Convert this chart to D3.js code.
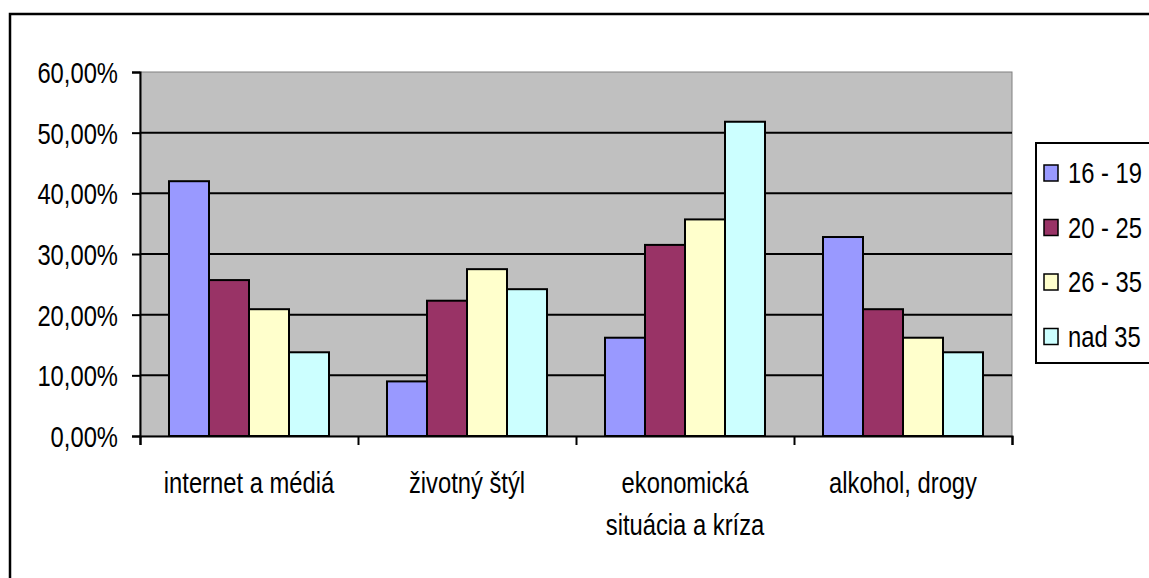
<!DOCTYPE html>
<html>
<head>
<meta charset="utf-8">
<script src="https://cdn.jsdelivr.net/npm/d3@7"></script>
<style>
  body { margin: 0; background: #fff; }
  text { font-family: "Liberation Sans", Arial, sans-serif; fill: #000; }
</style>
</head>
<body>
<script>
// chart data
var categories = ["internet a médiá", "životný štýl", "ekonomická situácia a kríza", "alkohol, drogy"];
var seriesNames = ["16 - 19", "20 - 25", "26 - 35", "nad 35"];
var values_16_19 = [0.420, 0.090, 0.162, 0.328];
var values_20_25 = [0.257, 0.223, 0.315, 0.209];
var values_26_35 = [0.209, 0.275, 0.357, 0.162];
var values_nad35 = [0.138, 0.242, 0.518, 0.138];
var yTickValues = [0, 0.1, 0.2, 0.3, 0.4, 0.5, 0.6];

var seriesValues = [values_16_19, values_20_25, values_26_35, values_nad35];
var seriesColors = ["#9999FF", "#993366", "#FFFFCC", "#CCFFFF"];

// sizes
var svg_Width = 1149;
var svg_Height = 578;
var plot = { left: 140, right: 1012, top: 72, bottom: 436 };
var fontSize = 29;
var squeeze = 0.82;   // text is drawn narrow, like the original

var svg = d3.select("body")
  .append("svg")
  .attr("width", svg_Width)
  .attr("height", svg_Height);

// outer chart border (runs off right/bottom edge like the original)
svg.append("rect")
  .attr("x", 10).attr("y", 14)
  .attr("width", 1170).attr("height", 600)
  .attr("fill", "#fff")
  .attr("stroke", "#000")
  .attr("stroke-width", 2.5);

// scales
var x0 = d3.scaleBand().domain(categories).range([plot.left, plot.right]).paddingInner(0).paddingOuter(0);
var x1 = d3.scaleBand().domain(seriesNames).range([0, x0.bandwidth()]).paddingInner(0).paddingOuter(0.725);
var y = d3.scaleLinear().domain([0, 0.6]).range([plot.bottom, plot.top]);

var locale = d3.formatLocale({ decimal: ",", thousands: " ", grouping: [3], currency: ["", " €"] });
var pct = locale.format(".2%");

// plot area
svg.append("rect")
  .attr("x", plot.left).attr("y", plot.top)
  .attr("width", plot.right - plot.left)
  .attr("height", plot.bottom - plot.top)
  .attr("fill", "#C0C0C0")
  .attr("stroke", "#808080")
  .attr("stroke-width", 1);

// gridlines
svg.append("g")
  .selectAll("line")
  .data(yTickValues.filter(function(d) { return d > 0 && d < 0.6; }))
  .enter()
  .append("line")
  .attr("x1", plot.left).attr("x2", plot.right)
  .attr("y1", function(d) { return y(d); })
  .attr("y2", function(d) { return y(d); })
  .attr("stroke", "#000")
  .attr("stroke-width", 2);

// bars
var rows = [];
categories.forEach(function(cat, ci) {
  seriesNames.forEach(function(s, si) {
    rows.push({ cat: cat, series: s, value: seriesValues[si][ci], color: seriesColors[si] });
  });
});

svg.append("g")
  .selectAll("rect")
  .data(rows)
  .enter()
  .append("rect")
  .attr("x", function(d) { return x0(d.cat) + x1(d.series); })
  .attr("y", function(d) { return y(d.value); })
  .attr("width", x1.bandwidth())
  .attr("height", function(d) { return y(0) - y(d.value); })
  .attr("fill", function(d) { return d.color; })
  .attr("stroke", "#000")
  .attr("stroke-width", 2);

// y axis
var yAxis = svg.append("g")
  .attr("transform", "translate(" + plot.left + ",0)")
  .call(d3.axisLeft(y).tickValues(yTickValues).tickSize(8).tickFormat(pct));
yAxis.select(".domain").attr("stroke", "#000").attr("stroke-width", 2);
yAxis.selectAll(".tick line").attr("stroke", "#000").attr("stroke-width", 2);
yAxis.selectAll(".tick text")
  .attr("x", null).attr("dy", null)
  .attr("font-size", fontSize)
  .attr("text-anchor", "end")
  .attr("transform", "translate(-22,10.4) scale(" + squeeze + ",1)");

// x axis: line and ticks on the category boundaries
var bounds = d3.scaleLinear().domain([0, categories.length]).range([plot.left, plot.right]);
var xAxis = svg.append("g")
  .attr("transform", "translate(0," + plot.bottom + ")")
  .call(d3.axisBottom(bounds).tickValues(d3.range(categories.length + 1)).tickSize(9).tickFormat(""));
xAxis.select(".domain").attr("stroke", "#000").attr("stroke-width", 2);
xAxis.selectAll(".tick line").attr("stroke", "#000").attr("stroke-width", 2);

// category labels, wrapped to the band width
var labelGroup = svg.append("g");
categories.forEach(function(cat) {
  var words = cat.split(" ");
  var lines = [];
  var line = [];
  var probe = labelGroup.append("text").attr("font-size", fontSize);
  words.forEach(function(w) {
    line.push(w);
    probe.text(line.join(" "));
    if (probe.node().getComputedTextLength() * squeeze > 200 && line.length > 1) {
      line.pop();
      lines.push(line.join(" "));
      line = [w];
    }
  });
  lines.push(line.join(" "));
  probe.remove();

  lines.forEach(function(l, i) {
    labelGroup.append("text")
      .attr("font-size", fontSize)
      .attr("text-anchor", "middle")
      .attr("transform", "translate(" + (x0(cat) + x0.bandwidth() / 2) + "," + (493 + i * 42) + ") scale(" + squeeze + ",1)")
      .text(l);
  });
});

// legend
var legend = svg.append("g").attr("transform", "translate(1036,143)");
legend.append("rect")
  .attr("x", 0).attr("y", 0)
  .attr("width", 140).attr("height", 220)
  .attr("fill", "#fff")
  .attr("stroke", "#000")
  .attr("stroke-width", 2);

var legendItem = legend.selectAll(".item")
  .data(seriesNames)
  .enter()
  .append("g")
  .attr("class", "item")
  .attr("transform", function(d, i) { return "translate(0," + (30 + i * 54.5) + ")"; });

legendItem.append("rect")
  .attr("x", 8).attr("y", -8)
  .attr("width", 14).attr("height", 16)
  .attr("fill", function(d, i) { return seriesColors[i]; })
  .attr("stroke", "#000")
  .attr("stroke-width", 1.5);

legendItem.append("text")
  .attr("font-size", fontSize)
  .attr("transform", "translate(32,10.4) scale(" + squeeze + ",1)")
  .text(function(d) { return d; });
</script>
</body>
</html>
